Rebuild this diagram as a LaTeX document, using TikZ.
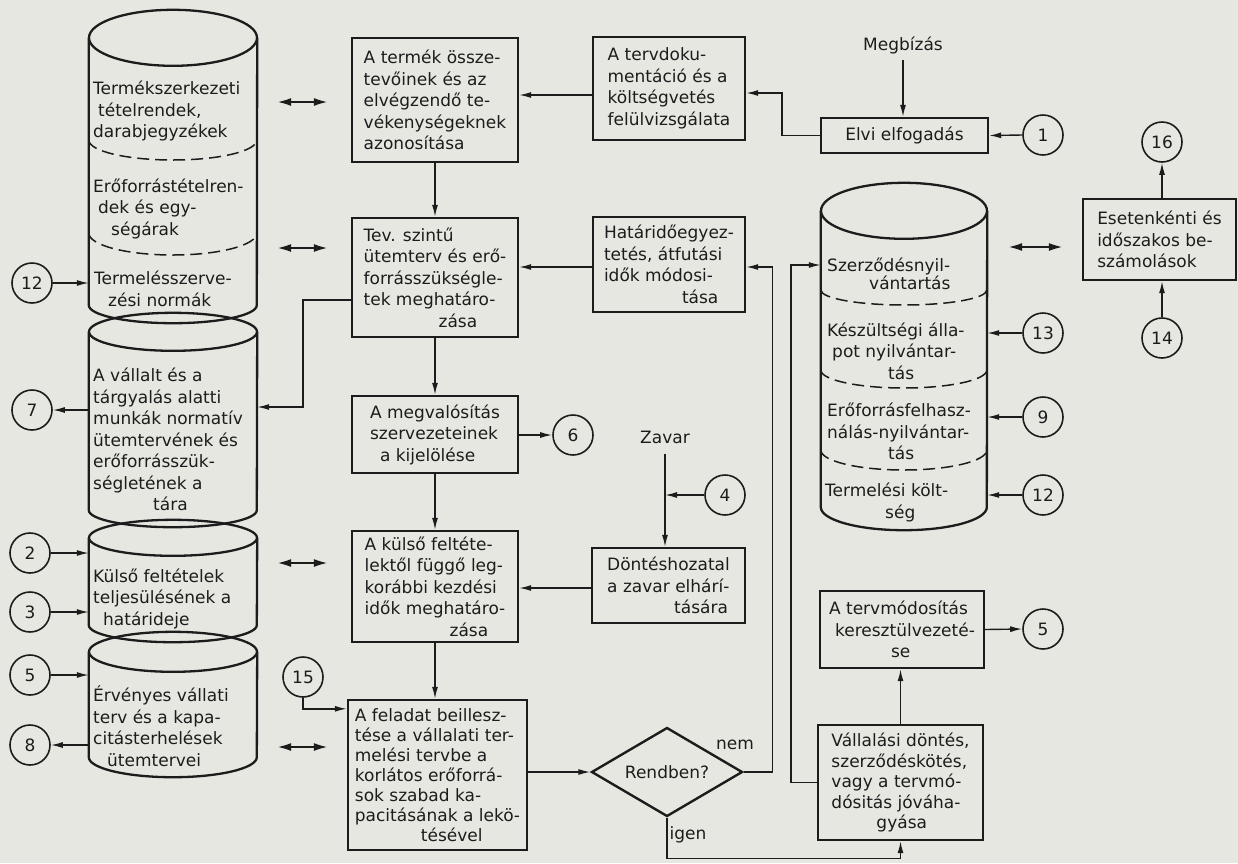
\documentclass[tikz,border=0pt]{standalone}
\usepackage{fontspec}
\setmainfont{DejaVu Sans}
\usetikzlibrary{shapes.geometric, arrows.meta}
\definecolor{wfInk}{HTML}{1C1C1C}
\definecolor{wfPaper}{HTML}{E7E7E2}
\tikzset{
  wfbox/.style={rectangle, draw=wfInk, line width=2.4pt, text=wfInk,
    align=left, inner sep=3pt, font=\fontsize{17}{21.5}\selectfont},
  wfbody/.style={rectangle, draw=none, inner sep=0pt},
  wftext/.style={anchor=west, inner sep=0pt, text=wfInk, align=left,
    font=\fontsize{17}{21.5}\selectfont},
  wfcirc/.style={circle, draw=wfInk, line width=1.6pt, minimum size=40pt,
    inner sep=0pt, text=wfInk, font=\fontsize{17}{20}\selectfont},
  wfdiamond/.style={diamond, draw=wfInk, line width=2.4pt, aspect=1.7,
    minimum width=151pt, minimum height=89pt, inner sep=0pt, text=wfInk,
    font=\fontsize{17}{20}\selectfont},
  wflabel/.style={inner sep=2pt, text=wfInk, font=\fontsize{17}{20}\selectfont},
  wfline/.style={draw=wfInk, line width=2.3pt},
  wfarrow/.style={-{Latex[length=12pt, width=6pt]}, line width=1.4pt, wfInk},
  wfdouble/.style={{Latex[length=15pt, width=8pt]}-{Latex[length=15pt, width=8pt]},
    line width=2.6pt, wfInk}
}
\newcommand{\wfcylinder}[4]{%
  \draw[wfline] (#1.north west) -- (#1.south west)
    arc[start angle=180, end angle=360, x radius=#2pt, y radius=#4pt] -- (#1.north east);
  \draw[wfline] (#1.north) ellipse[x radius=#2pt, y radius=#3pt];}
\newcommand{\wfsplit}[4]{%
  \draw[wfline, line width=1.5pt, dash pattern=on 12pt off 6pt] (#1.west |- 0,#3)
    arc[start angle=180, end angle=360, x radius=#2pt, y radius=#4pt];}
\begin{document}
\begin{tikzpicture}[x=1pt, y=-1pt]
  \useasboundingbox (0,0) rectangle (1238,863);
  \fill[wfPaper] (0,0) rectangle (1238,863);

  \node[wfbody, minimum width=168pt, minimum height=267pt] (items) at (173,171.5) {};
  \node[wfbody, minimum width=168pt, minimum height=178pt] (norms) at (173,421) {};
  \node[wfbody, minimum width=168pt, minimum height=87pt] (extdates) at (173,581.5) {};
  \node[wfbody, minimum width=168pt, minimum height=105pt] (plan) at (173,704.5) {};
  \node[wfbody, minimum width=166pt, minimum height=296pt] (records) at (904,359) {};
  \wfcylinder{items}{84}{28}{18}
  \wfsplit{items}{84}{140}{20}
  \wfsplit{items}{84}{233}{22}
  \wfcylinder{norms}{84}{19}{17}
  \wfcylinder{extdates}{84}{18}{17}
  \wfcylinder{plan}{84}{20}{20}
  \wfcylinder{records}{83}{28}{23}
  \wfsplit{records}{83}{290}{15}
  \wfsplit{records}{83}{370}{18}
  \wfsplit{records}{83}{450}{20}

  \node[wftext] (itemsa) at (93,111) {Termékszerkezeti\\\hspace*{5pt}tételrendek,\\darabjegyzékek};
  \node[wftext] (itemsb) at (93,208.5) {Erőforrástételren-\\\hspace*{5pt}dek és egy-\\\hspace*{18pt}ségárak};
  \node[wftext] (itemsc) at (94,289) {Termelésszerve-\\\hspace*{14pt}zési normák};
  \node[wftext] (normsa) at (93,439.5) {A vállalt és a\\tárgyalás alatti\\munkák normatív\\ütemtervének és\\erőforrásszük-\\ségletének a\\\hspace*{60pt}tára};
  \node[wftext] (extdatesa) at (93,598.5) {Külső feltételek\\teljesülésének a\\\hspace*{10pt}határideje};
  \node[wftext] (plana) at (93,726) {Érvényes vállati\\terv és a kapa-\\citásterhelések\\\hspace*{14pt}ütemtervei};
  \node[wftext] (recordsa) at (827,274) {Szerződésnyil-\\[-3.5pt]\hspace*{42pt}vántartás};
  \node[wftext] (recordsb) at (827,351) {Készültségi álla-\\\hspace*{5pt}pot nyilvántar-\\\hspace*{61pt}tás};
  \node[wftext] (recordsc) at (827,431.5) {Erőforrásfelhasz-\\nálás-nyilvántar-\\\hspace*{61pt}tás};
  \node[wftext] (recordsd) at (825,502.5) {Termelési költ-\\\hspace*{60pt}ség};

  \node[wfbox, minimum width=166pt, minimum height=124pt] (ident) at (435,100)
    {A termék össze-\\tevőinek és az\\elvégzendő te-\\vékenységeknek\\azonosítása};
  \node[wfbox, minimum width=166pt, minimum height=119pt] (sched) at (435,277.5)
    {Tev. szintű\\ütemterv és erő-\\forrásszükségle-\\tek meghatáro-\\\hspace*{75pt}zása};
  \node[wfbox, minimum width=166pt, minimum height=77pt] (orgs) at (435,434.5)
    {A megvalósítás\\szervezeteinek\\\hspace*{10pt}a kijelölése};
  \node[wfbox, minimum width=166pt, minimum height=111pt] (start) at (435,586.5)
    {A külső feltéte-\\lektől függő leg-\\korábbi kezdési\\idők meghatáro-\\\hspace*{85pt}zása};
  \node[wfbox, minimum width=179pt, minimum height=150pt, font=\fontsize{17}{20}\selectfont] (fit) at (437.5,775)
    {A feladat beillesz-\\tése a vállalati ter-\\melési tervbe a\\korlátos erőforrá-\\sok szabad ka-\\pacitásának a lekö-\\\hspace*{66pt}tésével};
  \node[wfbox, minimum width=152pt, minimum height=103pt] (review) at (669,88.5)
    {A tervdoku-\\mentáció és a\\költségvetés\\felülvizsgálata};
  \node[wfbox, minimum width=152pt, minimum height=95pt] (deadline) at (669,264.5)
    {Határidőegyez-\\tetés, átfutási\\idők módosi-\\\hspace*{78pt}tása};
  \node[wfbox, minimum width=153pt, minimum height=75pt] (decide) at (668.5,585.5)
    {Döntéshozatal\\a zavar elhárí-\\\hspace*{67pt}tására};
  \node[wfbox, minimum width=167pt, minimum height=35pt, align=center] (accept) at (904.5,135.5)
    {Elvi elfogadás};
  \node[wfbox, minimum width=153pt, minimum height=81pt] (report) at (1159.5,239.5)
    {Esetenkénti és\\időszakos be-\\számolások};
  \node[wfbox, minimum width=164pt, minimum height=77pt] (modify) at (902,629.5)
    {A tervmódosítás\\\hspace*{6pt}keresztülvezeté-\\\hspace*{62pt}se};
  \node[wfbox, minimum width=165pt, minimum height=115pt, font=\fontsize{17}{20.5}\selectfont] (commit) at (900.5,782.5)
    {Vállalási döntés,\\szerződéskötés,\\vagy a tervmó-\\dósitás jóváha-\\\hspace*{45pt}gyása};
  \node[wfdiamond] (ok) at (667,772) {Rendben?};

  \node[wflabel] (order) at (903,45) {Megbízás};
  \node[wflabel] (fault) at (665,437) {Zavar};
  \node[wflabel] (nolabel) at (735,745) {nem};
  \node[wflabel] (yeslabel) at (688,835) {igen};

  \node[wfcirc] (ref12) at (32,283) {12};
  \node[wfcirc] (ref7) at (32,410) {7};
  \node[wfcirc] (ref2) at (30,553) {2};
  \node[wfcirc] (ref3) at (30,612) {3};
  \node[wfcirc] (ref5) at (30,675) {5};
  \node[wfcirc] (ref8) at (30,745) {8};
  \node[wfcirc] (ref6) at (573,435) {6};
  \node[wfcirc] (ref15) at (303,677) {15};
  \node[wfcirc] (ref4) at (725,495) {4};
  \node[wfcirc] (ref1) at (1043,135) {1};
  \node[wfcirc] (ref16) at (1162,142) {16};
  \node[wfcirc] (ref14) at (1162,338) {14};
  \node[wfcirc] (ref13) at (1043,333) {13};
  \node[wfcirc] (ref9) at (1043,417) {9};
  \node[wfcirc] (ref12b) at (1043,495) {12};
  \node[wfcirc] (ref5b) at (1043,629) {5};

  \draw[wfarrow] (ref12.east) -- (ref12.east -| items.west);
  \draw[wfarrow] (norms.west |- ref7) -- (ref7.east);
  \draw[wfarrow] (ref2.east) -- (ref2.east -| extdates.west);
  \draw[wfarrow] (ref3.east) -- (ref3.east -| extdates.west);
  \draw[wfarrow] (ref5.east) -- (ref5.east -| plan.west);
  \draw[wfarrow] (plan.west |- ref8) -- (ref8.east);

  \draw[wfdouble, shorten <=19pt, shorten >=22pt] (items.east |- 0,102) -- (ident.west |- 0,102);
  \draw[wfdouble, shorten <=19pt, shorten >=22pt] (items.east |- 0,248) -- (sched.west |- 0,248);
  \draw[wfdouble, shorten <=19pt, shorten >=22pt] (extdates.east |- 0,563) -- (start.west |- 0,563);
  \draw[wfdouble, shorten <=19pt, shorten >=18pt] (plan.east |- 0,747) -- (fit.west |- 0,747);
  \draw[wfdouble, shorten <=20pt, shorten >=18pt] (records.east |- 0,247) -- (report.west |- 0,247);

  \draw[wfarrow] (ident.south) -- (sched.north);
  \draw[wfarrow] (sched.south) -- (orgs.north);
  \draw[wfarrow] (orgs.south) -- (start.north);
  \draw[wfarrow] (start.south) -- (start.south |- fit.north);
  \draw[wfarrow] (orgs.east |- ref6) -- (ref6.west);
  \draw[wfarrow] (sched.west |- 0,300) -- (303,300) |- (norms.east |- 0,407);
  \draw[wfarrow] (ref15.south) |- ([yshift=-10pt]fit.north west);

  \draw[wfarrow] (review.west |- 0,95) -- (ident.east |- 0,95);
  \draw[wfarrow] (accept.west) -- ++(-38,0) |- (review.east |- 0,93);
  \draw[wfarrow, shorten <=4pt] (order.south) -- (order.south |- accept.north);
  \draw[wfarrow] (ref1.west) -- (accept.east);
  \draw[wfarrow] (deadline.west |- 0,267) -- (sched.east |- 0,267);
  \draw[wfarrow] (decide.west |- 0,588) -- (start.east |- 0,588);
  \draw[wfarrow, shorten <=8pt] (fault.south) -- (fault.south |- decide.north);
  \draw[wfarrow] (ref4.west) -- (ref4.west -| fault.south);

  \draw[wfarrow] (fit.east |- ok.west) -- (ok.west);
  \draw[wfarrow] (ok.east) -- ++(29,0) |- (deadline.east |- 0,267);
  \draw[wfarrow] (ok.south) -- ++(0,41) -| (commit.south);
  \draw[wfarrow] (commit.west) -- ++(-26,0) |- (records.west |- 0,265);
  \draw[wfarrow] (commit.north) -- (commit.north |- modify.south);
  \draw[wfarrow] (modify.east) -- (ref5b.west);

  \draw[wfarrow] (ref13.west) -- (ref13.west -| records.east);
  \draw[wfarrow] (ref9.west) -- (ref9.west -| records.east);
  \draw[wfarrow] (ref12b.west) -- (ref12b.west -| records.east);
  \draw[wfarrow] (ref16.south |- report.north) -- (ref16.south);
  \draw[wfarrow] (ref14.north) -- (ref14.north |- report.south);
\end{tikzpicture}
\end{document}
